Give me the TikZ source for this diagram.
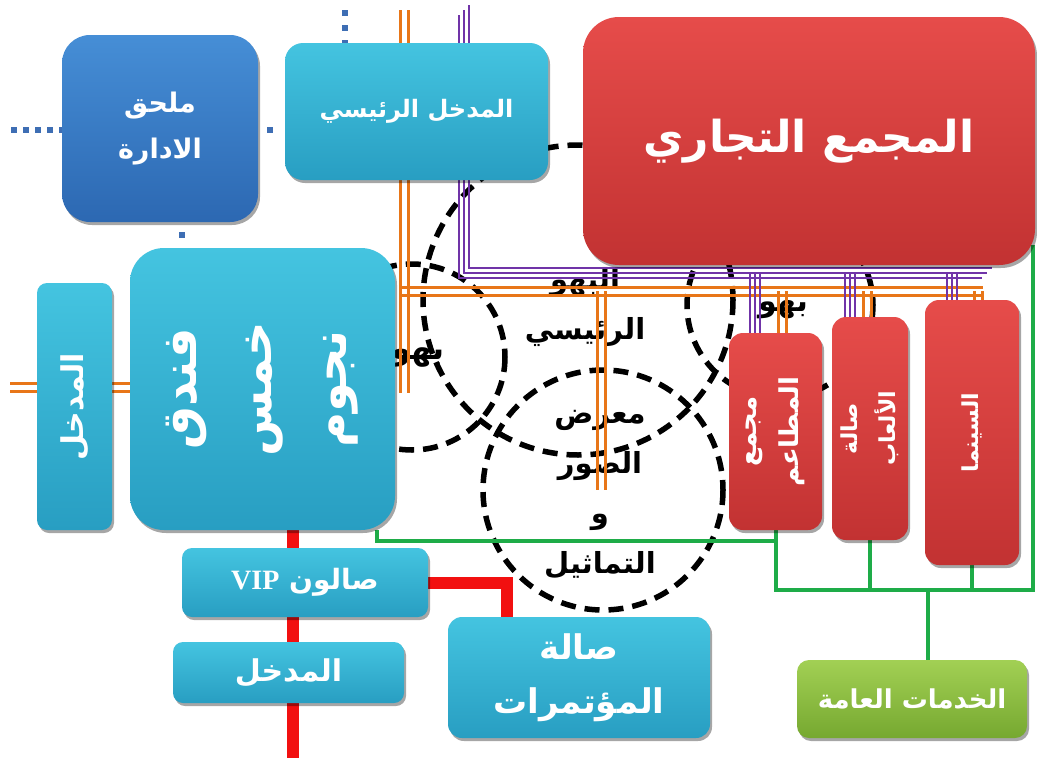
\documentclass[tikz,border=0pt]{standalone}
\usepackage{fontspec}
\TeXXeTstate=1
\newfontfamily\arabicfont[Script=Arabic]{DejaVu Sans}
\newfontfamily\vipfont{Liberation Serif}
\usetikzlibrary{shadows}
\pgfdeclarelayer{pipes}
\pgfsetlayers{pipes,main}

\definecolor{cyanT}{RGB}{68,196,224}
\definecolor{cyanB}{RGB}{40,158,194}
\definecolor{blueT}{RGB}{70,142,214}
\definecolor{blueB}{RGB}{44,104,178}
\definecolor{redT}{RGB}{230,76,74}
\definecolor{redB}{RGB}{194,50,50}
\definecolor{greenT}{RGB}{162,208,84}
\definecolor{greenB}{RGB}{118,168,48}
\definecolor{pipeorange}{RGB}{232,118,24}
\definecolor{pipepurple}{RGB}{112,52,168}
\definecolor{pipegreen}{RGB}{30,172,72}
\definecolor{pipered}{RGB}{242,16,16}
\definecolor{dotblue}{RGB}{62,110,180}

\newcommand\rl[1]{\beginR #1\endR}
\newcommand\fs[2]{\fontsize{#1}{#2}\selectfont}

\begin{document}
\begin{tikzpicture}[x=1pt,y=-1pt,
  zone/.style={draw=black, line width=5.5pt, dash pattern=on 15pt off 9pt},
  hall/.style={text=black, inner sep=0pt, align=center},
  opipe/.style={draw=pipeorange, line width=3pt},
  ppipe/.style={draw=pipepurple, line width=2pt},
  gpipe/.style={draw=pipegreen, line width=4pt},
  rpipe/.style={draw=pipered, line width=12pt},
  dots/.style={draw=dotblue, line width=6pt},
  tile/.style={rounded corners=#1, inner sep=0pt, align=center, text=white,
    drop shadow={shadow xshift=2pt, shadow yshift=-3pt, opacity=0.35, fill=black}},
  aqua/.style={tile=#1, top color=cyanT, bottom color=cyanB},
  navy/.style={tile=#1, top color=blueT, bottom color=blueB},
  crimson/.style={tile=#1, top color=redT, bottom color=redB},
  lime/.style={tile=#1, top color=greenT, bottom color=greenB},
  vtext/.style={rotate=90, text=white, align=center, inner sep=0pt}]

\useasboundingbox (0,0) rectangle (1037,758);

% ---- buildings ----
\node[navy=28pt, minimum width=196pt, minimum height=187pt,
      font=\arabicfont\bfseries\fs{27}{46}] (admin) at (160,128.5) {\rl{ملحق}\\\rl{الادارة}};
\node[aqua=18pt, minimum width=263pt, minimum height=137pt,
      font=\arabicfont\bfseries\fs{24}{30}] (mainentr) at (416.5,111.5) {\rl{المدخل الرئيسي}};
\node[crimson=36pt, minimum width=452pt, minimum height=248pt,
      font=\arabicfont\bfseries\fs{44}{54}] (mall) at (809,141) {\rl{المجمع التجاري}};

\node[aqua=10pt, minimum width=75pt, minimum height=247pt] (sideentr) at (74.5,406.5) {};
\node[vtext, font=\arabicfont\bfseries\fs{30}{30}] (sideentrtxt) at (sideentr) {\rl{المدخل}};

\node[aqua=34pt, minimum width=265pt, minimum height=282pt] (hotel) at (262.5,389) {};
\node[vtext, font=\arabicfont\bfseries\fs{48}{75}] (hoteltxt) at (hotel) {\rl{فندق}\\\rl{خمس}\\\rl{نجوم}};

\node[aqua=10pt, minimum width=246pt, minimum height=69pt,
      font=\arabicfont\bfseries\fs{28}{34}] (vip) at (305,582.5)
      {\rl{صالون \beginL{\vipfont\bfseries VIP}\endL}};
\node[aqua=10pt, minimum width=231pt, minimum height=61pt,
      font=\arabicfont\bfseries\fs{30}{30}] (lowentr) at (288.5,672.5) {\rl{المدخل}};
\node[aqua=14pt, minimum width=262pt, minimum height=121pt,
      font=\arabicfont\bfseries\fs{34}{54}] (conf) at (579,677.5) {\rl{صالة}\\\rl{المؤتمرات}};
\node[lime=12pt, minimum width=230pt, minimum height=78pt,
      font=\arabicfont\bfseries\fs{26}{30}] (services) at (912,699) {\rl{الخدمات العامة}};

\node[crimson=14pt, minimum width=93pt, minimum height=197pt] (food) at (775.5,431.5) {};
\node[vtext, font=\arabicfont\bfseries\fs{26}{42}] (foodtxt) at (food) {\rl{مجمع}\\\rl{المطاعم}};
\node[crimson=14pt, minimum width=76pt, minimum height=223pt] (games) at (870,428.5) {};
\node[vtext, font=\arabicfont\bfseries\fs{22}{38}] (gamestxt) at (games) {\rl{صالة}\\\rl{الألعاب}};
\node[crimson=14pt, minimum width=94pt, minimum height=265pt] (cinema) at (972,432.5) {};
\node[vtext, font=\arabicfont\bfseries\fs{22}{30}] (cinematxt) at (cinema) {\rl{السينما}};

\begin{pgfonlayer}{pipes}
\fill[white] (0,0) rectangle (1037,758);

% ---- dashed hall outlines ----
\draw[zone] (578,300) circle[radius=155];
\draw[zone] (412,357) circle[radius=93];
\draw[zone] (603,490) circle[radius=120];
\draw[zone] (780,305) circle[radius=93];

% ---- hall names ----
\node[hall, font=\arabicfont\bfseries\fs{32}{34}] (lobbyW) at (418,357) {\rl{بهو}};
\node[hall, font=\arabicfont\bfseries\fs{29}{50}] (lobby) at (585,307) {\rl{البهو}\\\rl{الرئيسي}};
\node[hall, font=\arabicfont\bfseries\fs{30}{30}] (lobbyE) at (783,310) {\rl{بهو}};
\node[hall, font=\arabicfont\bfseries\fs{29}{50}] (gallery) at (600,495)
      {\rl{معرض}\\\rl{الصور}\\\rl{و}\\\rl{التماثيل}};

% ---- service walkways (dotted) ----
\coordinate (dW) at (11,130);
\coordinate (dN) at (345,10);
\coordinate (dS) at (182,0);
\draw[dots, dash pattern=on 6pt off 6pt] (dW) -- (admin.west |- dW);
\draw[dots, dash pattern=on 0pt off 9pt on 6pt off 40pt] (admin.east |- dW) -- (mainentr.west |- dW);
\draw[dots, dash pattern=on 6pt off 9pt] (dN) -- (dN |- mainentr.north);
\draw[dots, dash pattern=on 0pt off 10pt on 6pt off 40pt] (admin.south -| dS) -- (hotel.north -| dS);

% ---- orange routes ----
\coordinate (oTop) at (404,10);
\coordinate (oFoot) at (404,393);
\coordinate (oWest) at (400,291);
\coordinate (oEast) at (983,291);
\coordinate (oMid) at (601,291);
\coordinate (oMidEnd) at (601,490);
\coordinate (oFood) at (782,291);
\coordinate (oGames) at (867,291);
\coordinate (oCinema) at (978,291);
\coordinate (oY) at (0,387);
\coordinate (oFar) at (10,387);
\foreach \s in {-4,4}{
  \draw[opipe, transform canvas={xshift=\s pt}] (oTop) -- (oFoot);
  \draw[opipe, transform canvas={yshift=\s pt}] (oWest) -- (oEast);
  \draw[opipe, transform canvas={xshift=\s pt}] (oMid) -- (oMidEnd);
  \draw[opipe, transform canvas={xshift=\s pt}] (oFood) -- (oFood |- food.north);
  \draw[opipe, transform canvas={xshift=\s pt}] (oGames) -- (oGames |- games.north);
  \draw[opipe, transform canvas={xshift=\s pt}] (oCinema) -- (oCinema |- cinema.north);
  \draw[opipe, transform canvas={yshift=\s pt}] (oFar) -- (sideentr.west |- oY);
  \draw[opipe, transform canvas={yshift=\s pt}] (sideentr.east |- oY) -- (hotel.west |- oY);
}

% ---- purple routes ----
\coordinate (pTop) at (464,10);
\coordinate (pCorner) at (464,273);
\coordinate (pEast) at (987,273);
\coordinate (pFood) at (755,273);
\coordinate (pGames) at (850,273);
\coordinate (pCinema) at (952,273);
\foreach \s in {-5,0,5}{
  \draw[ppipe, transform canvas={xshift=\s pt, yshift=\s pt}] (pTop) -- (pCorner) -- (pEast);
  \draw[ppipe, transform canvas={xshift=\s pt}] (pFood) -- (pFood |- food.north);
  \draw[ppipe, transform canvas={xshift=\s pt}] (pGames) -- (pGames |- games.north);
  \draw[ppipe, transform canvas={xshift=\s pt}] (pCinema) -- (pCinema |- cinema.north);
}

% ---- green service lines ----
\coordinate (gA) at (377,0);
\coordinate (gE) at (1033,590);
\coordinate (gTop) at (1033,245);
\coordinate (gS) at (928,0);
\draw[gpipe] (hotel.south -| gA) -- ++(0,11) -| (food.south);
\draw[gpipe] (food.south) -- (food.south |- gE) -- (gE) -- (gTop);
\draw[gpipe] (games.south) -- (games.south |- gE);
\draw[gpipe] (cinema.south) -- (cinema.south |- gE);
\draw[gpipe] (services.north -| gS) -- (gS |- gE);

% ---- red VIP route ----
\coordinate (rX) at (293,0);
\coordinate (rEnd) at (293,758);
\coordinate (rC) at (507,0);
\draw[rpipe] (hotel.south -| rX) -- (vip.north -| rX);
\draw[rpipe] (vip.south -| rX) -- (lowentr.north -| rX);
\draw[rpipe] (lowentr.south -| rX) -- (rEnd);
\draw[rpipe] (vip.east) -| (conf.north -| rC);
\end{pgfonlayer}
\end{tikzpicture}
\end{document}
